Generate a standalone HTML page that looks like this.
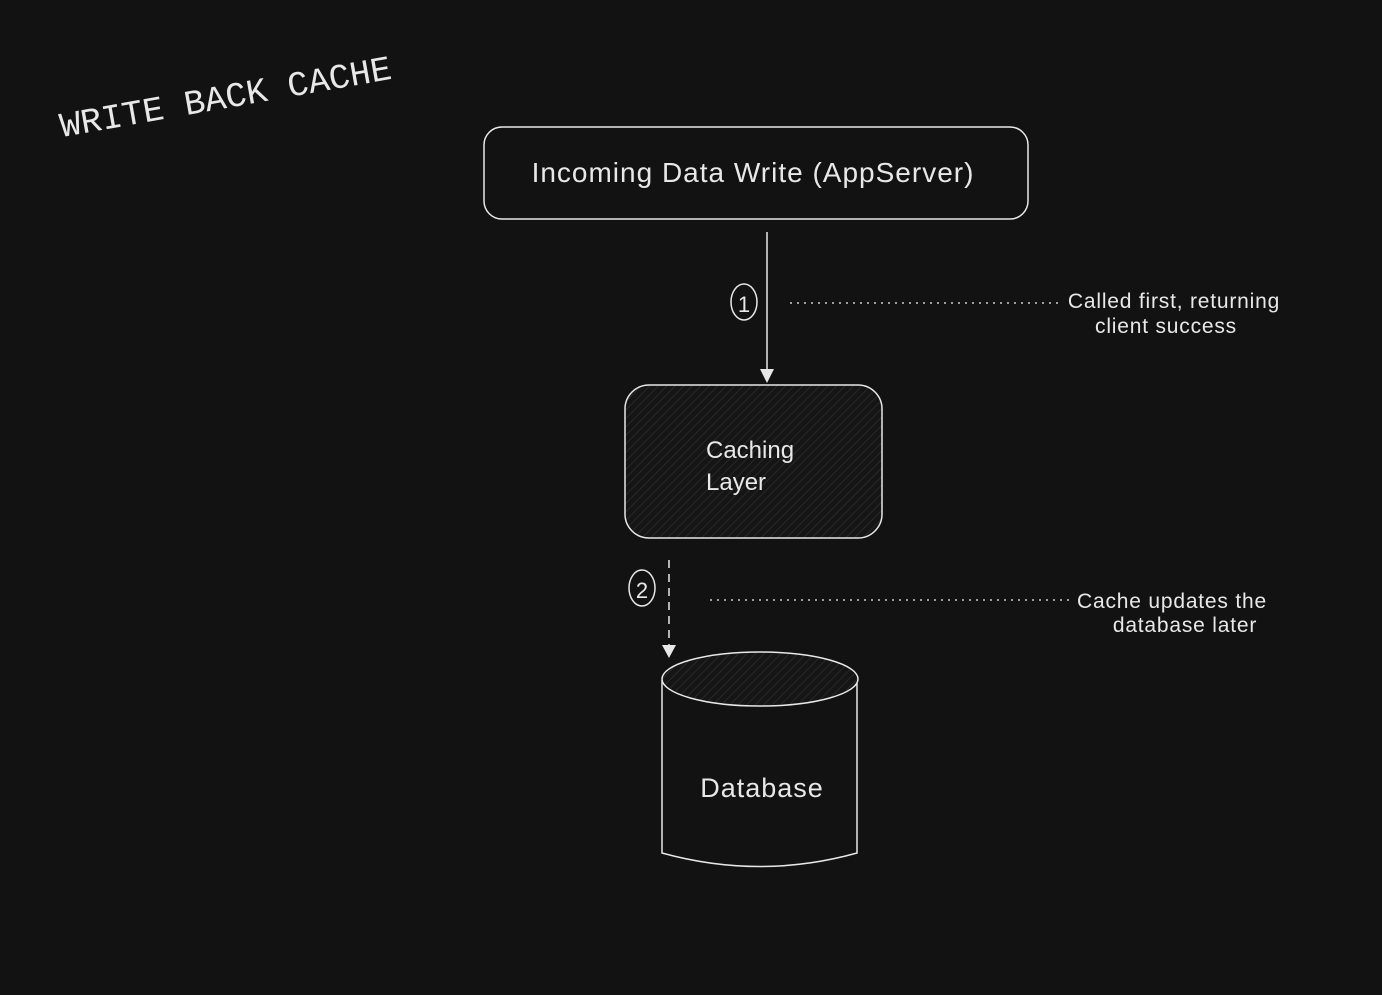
<!DOCTYPE html>
<html><head><style>
html,body{margin:0;padding:0;background:#121212;width:1382px;height:995px;overflow:hidden}
svg{display:block}
text{fill:#e8e8e8;font-family:"Liberation Sans",sans-serif}
</style></head><body>
<svg width="1382" height="995" viewBox="0 0 1382 995">
<defs>
<pattern id="h" width="6" height="6" patternUnits="userSpaceOnUse" patternTransform="rotate(45)">
<rect width="6" height="6" fill="#151515"/><line x1="0" y1="0" x2="0" y2="6" stroke="#2e2e2e" stroke-width="1.5"/>
</pattern>
</defs>
<text x="62" y="137" style="font-family:'Liberation Mono',monospace" font-size="35" transform="rotate(-10 62 137)">WRITE BACK CACHE</text>
<rect x="484" y="127" width="544" height="92" rx="18" fill="none" stroke="#e8e8e8" stroke-width="1.5"/>
<text x="753" y="182" font-size="28" letter-spacing="1" text-anchor="middle">Incoming Data Write (AppServer)</text>
<line x1="767" y1="232" x2="767" y2="370" stroke="#e8e8e8" stroke-width="1.5"/>
<polygon points="760,369 774,369 767,383" fill="#e8e8e8"/>
<ellipse cx="744" cy="302" rx="13" ry="18" fill="none" stroke="#e8e8e8" stroke-width="1.5"/>
<text x="744" y="312" font-size="22" text-anchor="middle">1</text>
<line x1="790" y1="303" x2="1058" y2="303" stroke="#ccc" stroke-width="1.5" stroke-dasharray="2 5"/>
<text x="1174" y="308" font-size="21" letter-spacing="0.8" text-anchor="middle">Called first, returning</text>
<text x="1166" y="333" font-size="21" letter-spacing="0.8" text-anchor="middle">client success</text>
<rect x="625" y="385" width="257" height="153" rx="24" fill="url(#h)" stroke="#e8e8e8" stroke-width="1.5"/>
<text x="706" y="458" font-size="24">Caching</text>
<text x="706" y="490" font-size="24">Layer</text>
<line x1="669" y1="560" x2="669" y2="645" stroke="#e8e8e8" stroke-width="1.5" stroke-dasharray="8 6"/>
<polygon points="662,645 676,645 669,658" fill="#e8e8e8"/>
<ellipse cx="642" cy="588" rx="13" ry="18" fill="none" stroke="#e8e8e8" stroke-width="1.5"/>
<text x="642" y="598" font-size="22" text-anchor="middle">2</text>
<line x1="710" y1="600" x2="1070" y2="600" stroke="#ccc" stroke-width="1.5" stroke-dasharray="2 5"/>
<text x="1172" y="608" font-size="21" letter-spacing="0.8" text-anchor="middle">Cache updates the</text>
<text x="1185" y="632" font-size="21" letter-spacing="0.8" text-anchor="middle">database later</text>
<path d="M662,680 L662,853 Q760,880 857,853 L857,680" fill="#121212" stroke="#e8e8e8" stroke-width="1.5"/>
<ellipse cx="760" cy="679" rx="98" ry="27" fill="url(#h)" stroke="#e8e8e8" stroke-width="1.5"/>
<text x="762" y="797" font-size="27" letter-spacing="1" text-anchor="middle">Database</text>
</svg>
</body></html>
